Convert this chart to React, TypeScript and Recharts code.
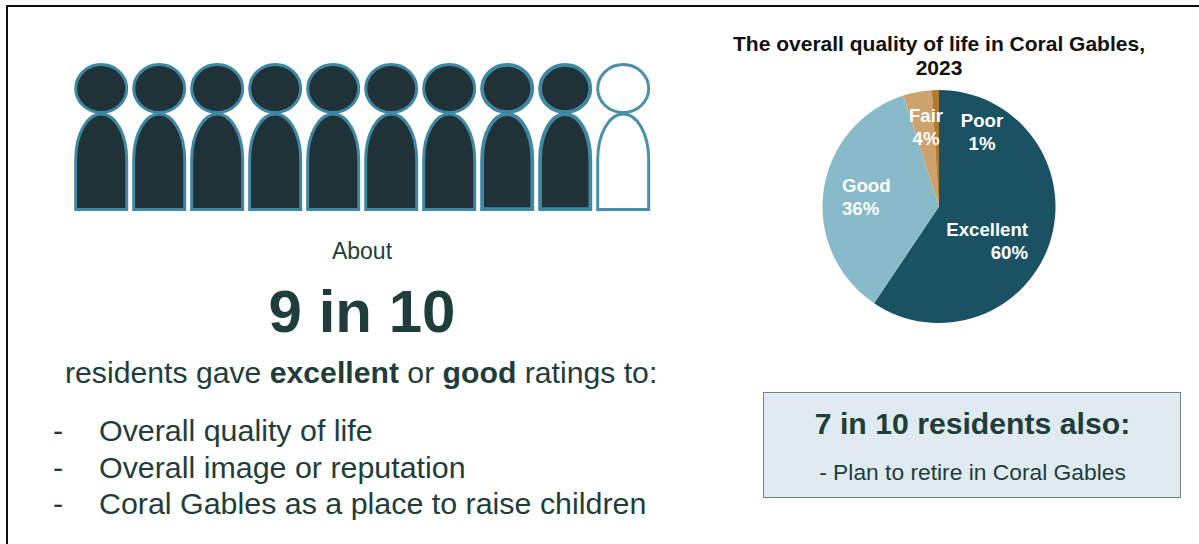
import { BarChart, Bar, XAxis, YAxis, PieChart, Pie, Cell } from 'recharts';

const FONT = '"Liberation Sans", Arial, sans-serif';
const INK = '#1f3d3a';

// Pictogram: one figure per ten residents
const personIds = ['p1', 'p2', 'p3', 'p4', 'p5', 'p6', 'p7', 'p8', 'p9', 'p10'];
const personValues = [1, 1, 1, 1, 1, 1, 1, 1, 1, 1];
const personRated = [true, true, true, true, true, true, true, true, true, false];

// Quality of life ratings, clockwise from twelve o'clock
const ratingNames = ['Excellent', 'Good', 'Fair', 'Poor'];
const ratingValues = [60, 36, 4, 1];
const ratingColors = ['#1a5263', '#88bac9', '#cda26c', '#b07a30'];

const bulletItems = [
  'Overall quality of life',
  'Overall image or reputation',
  'Coral Gables as a place to raise children',
];

const peopleData = personIds.map((id, i) => ({ id, value: personValues[i], rated: personRated[i] }));
const ratingData = ratingNames.map((name, i) => ({ name, value: ratingValues[i] }));

function PersonIcon(props: any) {
  const { x, y, width, height, index, payload } = props;
  const rated = payload.rated;
  const sw = index >= 7 && rated ? 3.8 : 3;
  const inset = sw / 2;
  const left = x + inset;
  const right = x + width - inset;
  const cx = x + width / 2;
  const headH = height * 0.345;
  const bodyTop = y + headH;
  const bottom = y + height - inset;
  const archH = height * 0.31;
  const fill = rated ? '#203237' : '#ffffff';
  const stroke = rated ? '#3f88a3' : '#4a90a9';
  return (
    <g>
      <ellipse
        cx={cx}
        cy={y + headH / 2}
        rx={width / 2 - inset}
        ry={headH / 2 - inset}
        fill={fill}
        stroke={stroke}
        strokeWidth={sw}
      />
      <path
        d={`M${left},${bottom} L${left},${bodyTop + archH} C${left},${bodyTop + archH * 0.4} ${cx - width * 0.25},${bodyTop} ${cx},${bodyTop} C${cx + width * 0.25},${bodyTop} ${right},${bodyTop + archH * 0.4} ${right},${bodyTop + archH} L${right},${bottom} Z`}
        fill={fill}
        stroke={stroke}
        strokeWidth={sw}
      />
    </g>
  );
}

// Where each slice's label sits relative to the pie centre
const labelOffsets: Record<string, { dx: number; dy: number; anchor: string }> = {
  Excellent: { dx: 89, dy: 23, anchor: 'end' },
  Good: { dx: -97, dy: -21, anchor: 'start' },
  Fair: { dx: -13, dy: -91, anchor: 'middle' },
  Poor: { dx: 43, dy: -86, anchor: 'middle' },
};

function RatingLabel(props: any) {
  const { cx, cy, name, value } = props;
  const o = labelOffsets[name];
  const x = cx + o.dx;
  const y = cy + o.dy;
  return (
    <text x={x} y={y} textAnchor={o.anchor} fill="#ffffff" fontFamily={FONT} fontWeight="bold" fontSize={18.6}>
      <tspan x={x} dy={6}>{name}</tspan>
      <tspan x={x} dy={23}>{`${value}%`}</tspan>
    </text>
  );
}

const at = (left: number, top: number, extra: React.CSSProperties = {}): React.CSSProperties => ({
  position: 'absolute',
  left,
  top,
  whiteSpace: 'nowrap',
  fontFamily: FONT,
  color: INK,
  ...extra,
});

export default function App() {
  return (
    <div style={{ position: 'absolute', left: 0, top: 0, width: 1199, height: 544, overflow: 'hidden', background: '#fff' }}>
      <div style={{ position: 'absolute', left: 6, top: 5, width: 1300, height: 700, border: '2px solid #111' }} />

      <div style={{ position: 'absolute', left: 72, top: 59 }}>
        <BarChart
          width={580}
          height={156}
          data={peopleData}
          margin={{ top: 4, right: 0, bottom: 4, left: 0 }}
          barCategoryGap={2.2}
        >
          <XAxis dataKey="id" hide />
          <YAxis hide domain={[0, 1]} />
          <Bar dataKey="value" isAnimationActive={false} shape={PersonIcon} />
        </BarChart>
      </div>

      <div style={at(262, 238, { width: 200, textAlign: 'center', fontSize: 23 })}>About</div>
      <div style={at(212, 277, { width: 300, textAlign: 'center', fontSize: 60, fontWeight: 'bold' })}>9 in 10</div>
      <div style={at(65, 356, { fontSize: 30.2 })}>
        residents gave <b>excellent</b> or <b>good</b> ratings to:
      </div>

      {bulletItems.map((item, i) => (
        <div key={item}>
          <div style={at(53, 413 + i * 36.6, { fontSize: 30.4 })}>-</div>
          <div style={at(99, 413 + i * 36.6, { fontSize: 30.4 })}>{item}</div>
        </div>
      ))}

      <div style={at(699, 32, { width: 480, textAlign: 'center', fontSize: 21, fontWeight: 'bold', color: '#111', lineHeight: '24px' })}>
        The overall quality of life in Coral Gables,
        <br />
        2023
      </div>

      <div style={{ position: 'absolute', left: 800, top: 70 }}>
        <PieChart width={280} height={280}>
          <Pie
            data={ratingData}
            dataKey="value"
            nameKey="name"
            cx={134}
            cy={131.5}
            outerRadius={116.5}
            startAngle={90}
            endAngle={-270}
            stroke="none"
            isAnimationActive={false}
            labelLine={false}
            label={RatingLabel}
          >
            {ratingData.map((d, i) => (
              <Cell key={d.name} fill={ratingColors[i]} />
            ))}
          </Pie>
        </PieChart>
      </div>

      <div style={{ position: 'absolute', left: 763, top: 392, width: 416, height: 104, background: '#e0ebf1', border: '1.5px solid #6e858c' }} />
      <div style={at(763, 407, { width: 419, textAlign: 'center', fontSize: 30.2, fontWeight: 'bold' })}>7 in 10 residents also:</div>
      <div style={at(763, 459, { width: 419, textAlign: 'center', fontSize: 22.8 })}>- Plan to retire in Coral Gables</div>
    </div>
  );
}
